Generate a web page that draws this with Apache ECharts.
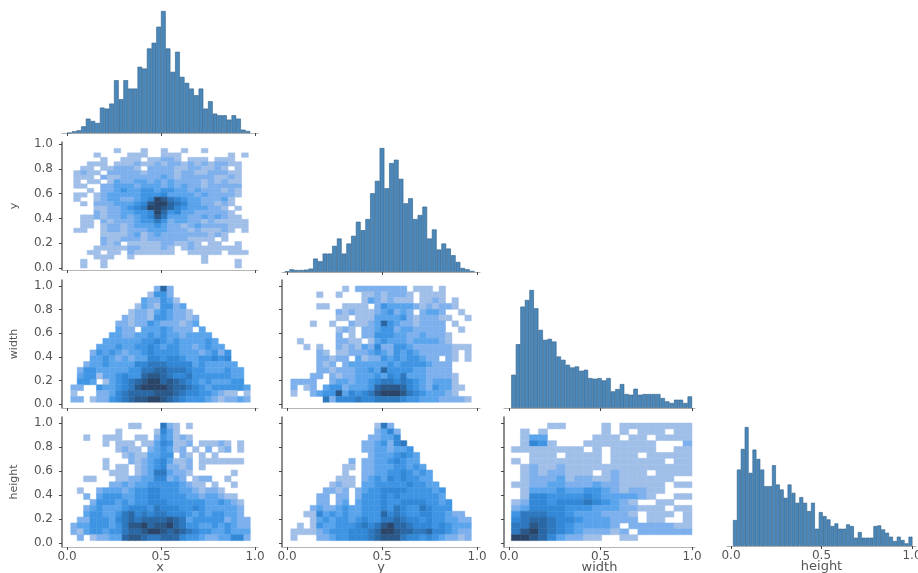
<!DOCTYPE html>
<html><head><meta charset="utf-8">
<script src="https://cdn.jsdelivr.net/npm/echarts@6/dist/echarts.min.js"></script>
<style>html,body{margin:0;background:#fff}#chart{width:918px;height:573px;filter:blur(0.7px)}</style>
</head><body><div id="chart"></div>
<script>
const variables = ['x','y','width','height'];
const tickX = [0,0.5,1];
const tickY = [0,0.2,0.4,0.6,0.8,1];

const histX = [0,5,8,20,43,36,30,76,73,88,158,101,158,133,133,198,193,253,270,318,365,253,183,243,168,150,133,113,133,73,95,58,53,53,40,53,43,10,6];
const histY = [2,8,6,6,7,10,40,32,55,55,78,100,55,85,108,150,125,158,235,272,370,250,325,335,278,205,220,158,170,195,100,127,67,85,70,50,30,12,8,3];
const histWidth = [100,192,305,325,355,300,235,205,208,200,155,145,130,122,125,112,115,90,88,90,83,90,50,57,72,42,40,58,40,42,42,42,42,30,20,15,25,25,15,35];
const histHeight = [78,230,292,358,220,290,262,230,180,180,243,185,170,145,185,160,130,147,130,105,130,52,102,90,80,60,68,52,52,65,60,25,42,25,25,25,60,62,50,40,28,15,28,18,8,28];
const histStart = [0,-0.0125,0.0125,0.011];
const histStep = [0.025,0.025,0.0247,0.02155];

const yByX = [
"0000000000000000000000000000","0000000100010010010010000000","0000100001110011100000001010","0000010011101122101110111000",
"0001110111211212212121221100","0011011222102222112211210100","0121102222212222122112221100","0111021122222232122222112100",
"0101101322332323222212121100","0110022333233323232212222200","0001022343344344332322212100","0110123333344453333232222100",
"0100123322345986543322231000","0010222333458997653322121000","0000112234569987543332210100","0000212233445974533222221000",
"0011212232345863332232321100","0011021222344642332212111110","0011012212333432212322221110","0110012212223332221211121010",
"0000011112312322222221210000","0000021122212222221111010000","0000021201111122112101100100","0000111112211121012111111100",
"0001101102111111001111101110","0000111001000000000010000000","0010010000000000000010000100","0010010000000000000000000100"];
const widthByX = [
"0000000000000272000000000000","0000000000001442000000000000","0000000000032243100000000000","0000000000132144230000000000",
"0000000001221343221000000000","0000000021221443221200000000","0000000221224322212300000000","0000000322033343222030000000",
"0000003322334343323333000000","0000033333344543433334300000","0000333433445434433234330000","0002434323345444433323424000",
"0003343232335545543344545000","0023343333556665555343333300","0244333334466776665443334330","0344133454478876556444444330",
"0443013456789978765434333440","2200433456899998776543444443","1000223567777888765544321101","2201224567889987654443212232"];
const heightByX = [
"0000000001100062101000000000","0000000100000153100000000000","0010011100110243121000000000","0000010111011354112011121010",
"0000000121102343120102012010","0000000012113344021010100000","0000010002123453112011111110","0000010110123452212010000000",
"0000001110123663221000000100","0011000112233552320122001000","0000002232334444432110100100","0100233323445544433212210000",
"0020344433445544443323321100","0002444343445554444443343210","0023433345554655544543333320","0034433467565665554343443320",
"0224443567677778763444442322","2334443468897889764433434322","2134434467789987876544334333","0201223378876677754432233552"];
const widthByY = [
"0000000010222222220111010000","0000100100011212221011110000","0000000000013212111011210100","0000110011110243333212122100",
"0000000212111234232023320010","0000000110111333342122211001","0001001002112374322122220100","0000000121022344233222220010",
"0000000201022444332232221000","0100000221101343332333321000","0010100212132522443222222111","0000210112223432434322222101",
"0000221220312243434432202101","0000212023333334344443222000","0000221222334374444332222000","0002202122333435463332222100",
"2222002332334566565432333100","2012034423334788875432433110","1002344835456899986543332100","0000062555655666654433322221"];
const heightByY = [
"0000000000000162000000000000","0000000000000235200000000000","0000000000002233500000000000","0000000000022342560000000000",
"0000000000022332334000000000","0000000000002333454300000000","0000000002022334543300000000","0000000011022333443430000000",
"0000000010022334454343000000","0000000111023435454433000000","0000001211033444445443300000","0000022120234455554444340000",
"0000220220244454544444430000","0000220230344454455554434000","0002322343344454654465444000","0011534343344475654455443220",
"0001343443454466765545443322","0101433444565689776555454333","1111234445556799877667554322","1000223445556788865545432212"];
const heightByWidth = [
"00001100001011111111","01010000001010111011","01330000011101101111","01541000111111110002",
"11111111010111110011","00111011110111011111","10111111110111111011","01211211111111111111",
"01212211101211101111","01222312211211111100","11223322232211111011","01333433443212211000",
"01554444543333210011","12554555654321001100","23555544433322111011","46665543332221011101",
"56776554333222011001","66876543333202222211","68976543222120222222","99875322110011000000"];

const levelColors = ['#ffffff','#a0bfe8','#7db0ec','#5aa4ec','#3f95e3','#3288d6','#2d78bf','#2a68a5','#2a5888','#2b4568'];
const barFill = '#4c87b9', barEdge = '#2e5f88', spine = '#666', lightAxis = '#b5b5b5', textCol = '#555';
const fontFamily = '"DejaVu Sans"';

// layout, px: zero and one tick, axis ends
const cols = [{z:67,o:255,l:62,r:258},{z:287,o:477,l:282,r:480},{z:509,o:692,l:504,r:695},{z:731,o:912,l:727,r:916}];
const histRows = [{base:133,top:11},{base:272,top:148},{base:408,top:290},{base:546,top:427}];
const heatRows = [null,{one:144,zero:268,top:142,bottom:270},{one:286,zero:404,top:280,bottom:408},{one:423,zero:543,top:417,bottom:547}];

const grids=[],xAxes=[],yAxes=[],series=[];
function xAxisFor(c,bottom,isLast,name){
  const k=cols[c], s=k.o-k.z;
  return {type:'value',gridIndex:grids.length-1,min:(k.l-k.z)/s,max:1+(k.r-k.o)/s,
    axisLine:{show:true,onZero:false,lineStyle:{color:lightAxis,width:1}},splitLine:{show:false},
    axisTick:{show:true,length:3,customValues:tickX,lineStyle:{color:'#444'}},
    axisLabel:{show:isLast,customValues:tickX,margin:4,color:textCol,fontSize:12,fontFamily,formatter:v=>v.toFixed(1)},
    name:isLast?name:'',nameLocation:'middle',nameGap:14,nameMoveOverlap:false,nameTextStyle:{color:textCol,fontSize:13,fontFamily}};
}
function addHist(c,vals){
  const k=cols[c], r=histRows[c], s=k.o-k.z;
  grids.push({outerBoundsMode:'none',left:k.l,width:k.r-k.l,top:r.top,height:r.base-r.top});
  xAxes.push(xAxisFor(c,r.base,c===3,variables[c]));
  yAxes.push({type:'value',gridIndex:grids.length-1,min:0,max:Math.max(...vals),show:false,splitLine:{show:false}});
  const st=histStart[c], w=histStep[c];
  series.push({type:'bar',xAxisIndex:grids.length-1,yAxisIndex:grids.length-1,silent:true,
    barWidth:w*s,itemStyle:{color:barFill,borderColor:barEdge,borderWidth:0.6},
    data:vals.map((v,i)=>[st+w*(i+0.5),v])});
}
function addHeat(c,rowIdx,rows,x0,x1,y0,y1){
  const k=cols[c], r=heatRows[rowIdx], s=k.o-k.z, sy=r.zero-r.one;
  grids.push({outerBoundsMode:'none',left:k.l,width:k.r-k.l,top:r.top,height:r.bottom-r.top});
  const isLast=rowIdx===3;
  xAxes.push(xAxisFor(c,r.bottom,isLast,variables[c]));
  yAxes.push({type:'value',gridIndex:grids.length-1,min:-(r.bottom-r.zero)/sy,max:1+(r.one-r.top)/sy,
    axisLine:{show:true,onZero:false,lineStyle:{color:spine,width:1.5}},splitLine:{show:false},
    axisTick:{show:true,length:3,customValues:tickY,lineStyle:{color:'#444'}},
    axisLabel:{show:c===0,customValues:tickY,margin:9,color:textCol,fontSize:12,fontFamily,formatter:v=>v.toFixed(1)},
    name:c===0?variables[rowIdx]:'',nameLocation:'middle',nameGap:42,nameMoveOverlap:false,nameRotate:90,nameTextStyle:{color:textCol,fontSize:11,fontFamily}});
  const nr=rows.length, nc=rows[0].length, data=[];
  rows.forEach((line,i)=>{ for(let j=0;j<nc;j++){ const lv=+line[j]; if(lv>0){
    data.push([x0+(x1-x0)*j/nc, x0+(x1-x0)*(j+1)/nc, y1-(y1-y0)*(i+1)/nr, y1-(y1-y0)*i/nr, lv]); } } });
  series.push({type:'custom',xAxisIndex:grids.length-1,yAxisIndex:grids.length-1,silent:true,data,
    encode:{x:[0,1],y:[2,3]},
    renderItem:(p,api)=>{
      const a=api.coord([api.value(0),api.value(3)]), b=api.coord([api.value(1),api.value(2)]), col=levelColors[api.value(4)];
      return {type:'rect',shape:{x:a[0],y:a[1],width:b[0]-a[0],height:b[1]-a[1]},style:{fill:col,stroke:col,lineWidth:0.5}};
    }});
}
addHist(0,histX);
addHeat(0,1,yByX,0.0,1.0,0.0,1.0);
addHist(1,histY);
addHeat(0,2,widthByX,0.02,0.975,0.015,1.0);
addHeat(1,2,widthByY,0.02,0.97,0.015,1.0);
addHist(2,histWidth);
addHeat(0,3,heightByX,0.02,0.975,0.02,1.0);
addHeat(1,3,heightByY,0.02,0.97,0.02,1.0);
addHeat(2,3,heightByWidth,0.013,1.0,0.02,1.0);
addHist(3,histHeight);

echarts.init(document.getElementById('chart')).setOption({
  animation:false,backgroundColor:'#fff',grid:grids,xAxis:xAxes,yAxis:yAxes,series
});
</script></body></html>
